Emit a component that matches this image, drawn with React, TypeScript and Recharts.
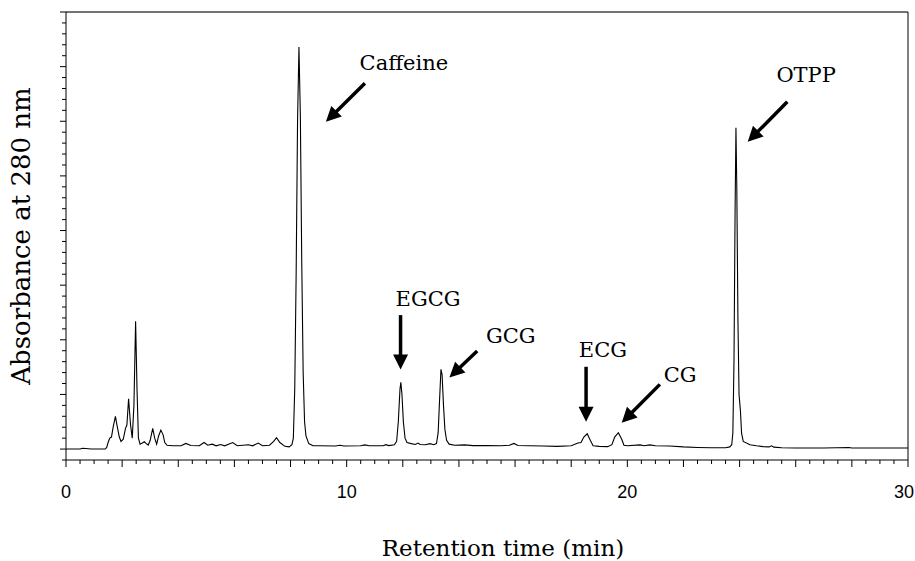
import { LineChart, Line, XAxis, YAxis, ReferenceLine, ReferenceDot, Label } from "recharts";

// retention time (min) and detector response (arbitrary units, one unit per minor y tick)
const times = [
  0.0, 0.5, 0.6, 0.7, 0.9, 1.4, 1.45, 1.5, 1.56, 1.62, 1.68, 1.76, 1.83, 1.9, 1.96, 2.04, 2.12, 2.17, 2.23, 2.3,
  2.36, 2.42, 2.48, 2.53, 2.58, 2.64, 2.72, 2.79, 2.86, 2.93, 3.0, 3.09, 3.16, 3.23, 3.3, 3.38, 3.46, 3.52, 3.6, 3.8,
  4.1, 4.27, 4.45, 4.75, 4.92, 5.05, 5.21, 5.35, 5.51, 5.65, 5.94, 6.1, 6.5, 6.65, 6.85, 7.0, 7.25, 7.4, 7.5, 7.62,
  7.8, 7.95, 8.05, 8.1, 8.15, 8.2, 8.25, 8.3, 8.35, 8.4, 8.45, 8.5, 8.55, 8.65, 8.8, 9.0, 9.6, 9.76, 9.9, 10.5,
  10.65, 10.8, 11.3, 11.4, 11.5, 11.7, 11.78, 11.84, 11.9, 11.93, 11.97, 12.02, 12.08, 12.15, 12.3, 12.45, 12.54, 12.62, 12.8, 12.97,
  13.1, 13.2, 13.26, 13.31, 13.36, 13.4, 13.45, 13.5, 13.56, 13.65, 13.85, 14.2, 14.5, 15.0, 15.5, 15.8, 15.96, 16.1, 16.5, 17.0,
  17.5, 18.0, 18.24, 18.35, 18.45, 18.57, 18.68, 18.78, 19.0, 19.3, 19.45, 19.55, 19.68, 19.8, 19.88, 20.0, 20.45, 20.6, 20.8, 21.0,
  21.5, 22.0, 22.5, 23.0, 23.5, 23.65, 23.72, 23.76, 23.8, 23.84, 23.87, 23.9, 23.94, 23.98, 24.03, 24.07, 24.13, 24.37, 24.6, 24.84,
  25.05, 25.14, 25.22, 25.5, 26.0, 27.0, 27.9, 28.0, 29.0, 30.0,
];
const absorbance = [
  0.0, 0.0, 0.08, 0.05, 0.0, 0.0, 0.15, 0.6, 1.0, 1.1, 2.0, 3.0, 2.0, 1.1, 0.7, 0.9, 1.9, 2.2, 4.6, 2.2,
  1.0, 4.0, 11.7, 5.5, 1.0, 0.45, 0.55, 0.67, 0.5, 0.37, 0.8, 1.9, 1.0, 0.45, 1.2, 1.74, 1.3, 0.6, 0.35, 0.3,
  0.3, 0.52, 0.32, 0.3, 0.6, 0.35, 0.45, 0.3, 0.42, 0.3, 0.6, 0.3, 0.4, 0.3, 0.55, 0.3, 0.35, 0.7, 1.04, 0.6,
  0.25, 0.2, 0.4, 1.0, 5.5, 16, 30, 36.8, 30.5, 17, 7, 2.5, 1.2, 0.5, 0.3, 0.3, 0.28, 0.35, 0.28, 0.3,
  0.38, 0.3, 0.3, 0.4, 0.32, 0.4, 0.7, 2.5, 5.5, 6.1, 5.0, 2.5, 1.0, 0.6, 0.5, 0.42, 0.55, 0.42, 0.4, 0.5,
  0.4, 0.5, 1.5, 4.5, 7.3, 6.8, 4.0, 1.8, 0.8, 0.45, 0.35, 0.38, 0.32, 0.33, 0.3, 0.35, 0.52, 0.33, 0.3, 0.28,
  0.25, 0.3, 0.55, 0.6, 1.1, 1.4, 0.8, 0.3, 0.25, 0.22, 0.4, 1.1, 1.5, 0.9, 0.35, 0.3, 0.38, 0.3, 0.38, 0.3,
  0.28, 0.2, 0.15, 0.12, 0.12, 0.2, 0.4, 1.5, 8, 22, 29.4, 24, 12, 5, 3.5, 1.45, 0.7, 0.4, 0.3, 0.22,
  0.2, 0.3, 0.18, 0.12, 0.1, 0.1, 0.14, 0.1, 0.1, 0.1,
];

const xLabels = [0, 10, 20, 30];
const xTicks = Array.from({ length: 61 }, (_, i) => i * 0.5);
const yTicks = Array.from({ length: 42 }, (_, i) => i - 1);

const peakNames = ["Caffeine", "EGCG", "GCG", "ECG", "CG", "OTPP"];
// label anchor, arrow tail, arrow tip (data coordinates)
const labelAt = [[12.04, 34.7], [12.9, 13.09], [15.85, 9.73], [19.13, 8.39], [21.88, 6.16], [26.37, 33.61]];
const arrowFrom = [[10.65, 33.47], [11.92, 12.26], [14.65, 8.97], [18.53, 7.53], [21.16, 5.92], [25.7, 31.78]];
const arrowTo = [[9.26, 29.95], [11.92, 7.29], [13.66, 6.56], [18.53, 2.5], [19.8, 2.41], [24.29, 28.12]];

const data = times.map((t, i) => ({ t, a: absorbance[i] }));

const serif = "'DejaVu Serif', 'Liberation Serif', serif";
const sans = "'Liberation Sans', Arial, sans-serif";

const XTick = (props: any) => {
  const { x, y, payload } = props;
  const v = payload.value;
  const major = Math.abs(v / 2 - Math.round(v / 2)) < 1e-6;
  const showLabel = xLabels.includes(v);
  return (
    <g>
      <line x1={x} y1={y} x2={x} y2={y + (major ? 7 : 4)} stroke="#000" strokeWidth={1} />
      {showLabel && (
        <text
          x={v === 30 ? x + 6 : x}
          y={y + 38}
          textAnchor={v === 30 ? "end" : "middle"}
          fontFamily={sans}
          fontSize={18}
          fill="#000"
        >
          {v}
        </text>
      )}
    </g>
  );
};

const YTick = (props: any) => {
  const { x, y, payload } = props;
  const major = payload.value % 5 === 0;
  return <line x1={x - (major ? 6 : 4)} y1={y} x2={x} y2={y} stroke="#000" strokeWidth={1} />;
};

const Arrow = (props: any) => {
  const { x1, y1, x2, y2 } = props;
  const dx = x2 - x1;
  const dy = y2 - y1;
  const len = Math.hypot(dx, dy);
  const ux = dx / len;
  const uy = dy / len;
  const hl = 15;
  const hw = 7.5;
  const bx = x2 - ux * hl;
  const by = y2 - uy * hl;
  return (
    <g>
      <line x1={x1} y1={y1} x2={bx + ux * 2} y2={by + uy * 2} stroke="#000" strokeWidth={3.5} />
      <polygon
        points={`${x2},${y2} ${bx - uy * hw},${by + ux * hw} ${bx + uy * hw},${by - ux * hw}`}
        fill="#000"
      />
    </g>
  );
};

export default function App() {
  return (
    <div style={{ position: "absolute", left: 0, top: 0, width: 915, height: 561, background: "#fff" }}>
      <LineChart width={915} height={561} data={data} margin={{ top: 12, right: 7, left: 0, bottom: 0 }}>
        <XAxis
          dataKey="t"
          type="number"
          domain={[0, 30]}
          ticks={xTicks}
          interval={0}
          height={101}
          tickSize={0}
          tickMargin={0}
          tick={<XTick />}
          stroke="#000"
          allowDataOverflow
        >
          <Label
            content={({ viewBox }: any) => (
              <text x={viewBox.x + 437} y={viewBox.y + 96} textAnchor="middle" fontFamily={serif} fontSize={23} fill="#000">
                Retention time (min)
              </text>
            )}
          />
        </XAxis>
        <YAxis
          type="number"
          domain={[-1, 40]}
          ticks={yTicks}
          interval={0}
          width={66}
          tickSize={0}
          tickMargin={0}
          tick={<YTick />}
          stroke="#000"
          allowDataOverflow
        >
          <Label
            content={({ viewBox }: any) => {
              const cx = viewBox.x + 21;
              const cy = viewBox.y + viewBox.height / 2;
              return (
                <text
                  x={cx}
                  y={cy}
                  transform={`rotate(-90 ${cx} ${cy})`}
                  textAnchor="middle"
                  dominantBaseline="central"
                  fontFamily={serif}
                  fontSize={26}
                  fill="#000"
                >
                  Absorbance at 280 nm
                </text>
              );
            }}
          />
        </YAxis>
        <ReferenceLine y={40} stroke="#444" strokeWidth={1.5} />
        <ReferenceLine x={30} stroke="#000" strokeWidth={1} />
        <Line
          type="linear"
          dataKey="a"
          stroke="#000"
          strokeWidth={1.1}
          dot={false}
          isAnimationActive={false}
        />
        {peakNames.map((name, i) => (
          <ReferenceLine
            key={`arrow-${name}`}
            segment={[
              { x: arrowFrom[i][0], y: arrowFrom[i][1] },
              { x: arrowTo[i][0], y: arrowTo[i][1] },
            ]}
            shape={<Arrow />}
          />
        ))}
        {peakNames.map((name, i) => (
          <ReferenceDot
            key={`label-${name}`}
            x={labelAt[i][0]}
            y={labelAt[i][1]}
            r={0}
            shape={(p: any) => (
              <text x={p.cx} y={p.cy} textAnchor="middle" fontFamily={serif} fontSize={21} fill="#000">
                {name}
              </text>
            )}
          />
        ))}
      </LineChart>
    </div>
  );
}
